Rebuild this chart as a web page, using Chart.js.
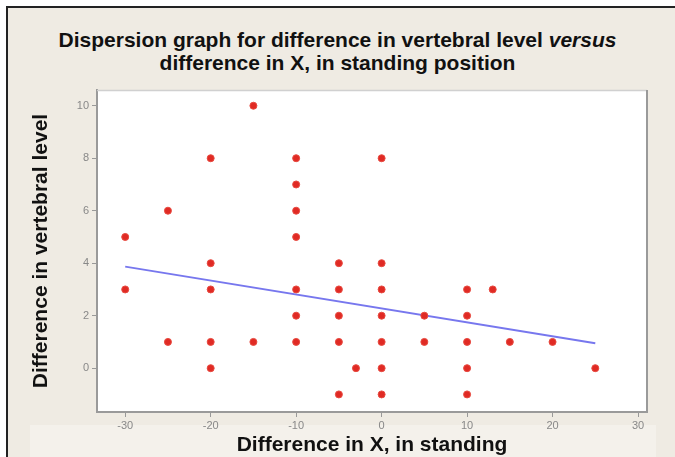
<!DOCTYPE html>
<html lang="en">
<head>
  <meta charset="UTF-8">
  <title>Dispersion graph</title>
  <script src="https://cdn.jsdelivr.net/npm/chart.js@4"></script>
  <style>
    html, body { margin: 0; padding: 0; background: #fff; }
    .frame {
      position: absolute; left: 6px; top: 6px; width: 669px; height: 451px;
      background: #efebe3; border-left: 2px solid #222; border-top: 2px solid #222;
      box-sizing: border-box;
    }
    .title {
      position: absolute; left: 0; top: 28px; width: 675px; text-align: center;
      font: bold 21px "Liberation Sans", Arial, sans-serif; line-height: 23px; color: #111;
    }
    #wrap { position: absolute; left: 0; top: 0; width: 675px; height: 457px; }
  </style>
</head>
<body>
  <div class="frame"></div>
  <div class="title">Dispersion graph for difference in vertebral level <em>versus</em><br>difference in X, in standing position</div>
  <div id="wrap"><canvas id="chart" width="675" height="457"></canvas></div>

  <script>
    // points: x = difference in X, y = difference in vertebral level
    const diffX = [-30, -30, -25, -25, -20, -20, -20, -20, -20, -15, -15,
                   -10, -10, -10, -10, -10, -10, -10,
                   -5, -5, -5, -5, -5, -3,
                   0, 0, 0, 0, 0, 0, 0,
                   5, 5, 10, 10, 10, 10, 10, 13, 15, 20, 25];
    const diffLevel = [5, 3, 6, 1, 8, 4, 3, 1, 0, 10, 1,
                       8, 7, 6, 5, 3, 2, 1,
                       4, 3, 2, 1, -1, 0,
                       8, 4, 3, 2, 1, 0, -1,
                       2, 1, 3, 2, 1, 0, -1, 3, 1, 1, 0];
    // fitted line ends
    const fitX = [-30, 25];
    const fitY = [3.87, 0.95];
    const xTicks = [-30, -20, -10, 0, 10, 20, 30];
    const yTicks = [0, 2, 4, 6, 8, 10];

    const points = diffX.map((x, i) => ({ x: x, y: diffLevel[i] }));
    const fitLine = fitX.map((x, i) => ({ x: x, y: fitY[i] }));

    // light band behind the x title + box round the plot
    const decor = {
      id: 'decor',
      beforeDraw(chart) {
        const c = chart.ctx;
        c.save();
        c.fillStyle = '#f4f1eb';
        c.fillRect(30, 425, 626, 32);
        const a = chart.chartArea;
        c.fillStyle = '#fff';
        c.fillRect(a.left, a.top, a.right - a.left, a.bottom - a.top);
        c.restore();
      },
      afterDraw(chart) {
        const a = chart.chartArea;
        const c = chart.ctx;
        c.save();
        c.strokeStyle = '#d0d0d0';
        c.lineWidth = 1.5;
        c.beginPath();
        c.moveTo(a.left, a.top + 0.5);
        c.lineTo(a.right, a.top + 0.5);
        c.stroke();
        c.strokeStyle = '#9a9a9a';
        c.lineWidth = 2;
        c.beginPath();
        c.moveTo(a.right, a.top);
        c.lineTo(a.right, a.bottom);
        c.stroke();
        c.restore();
      }
    };

    const tickFont = { family: '"Liberation Sans", Arial, sans-serif', size: 11 };
    const titleFont = { family: '"Liberation Sans", Arial, sans-serif', size: 21, weight: 'bold' };

    new Chart(document.getElementById('chart'), {
      type: 'scatter',
      data: {
        datasets: [
          {
            label: 'Observations',
            data: points,
            backgroundColor: '#e02a24',
            borderColor: '#e84a40',
            borderWidth: 1,
            pointRadius: 3.5,
            order: 1
          },
          {
            type: 'line',
            label: 'Fit',
            data: fitLine,
            borderColor: '#7777ee',
            borderWidth: 2,
            pointRadius: 0,
            fill: false,
            order: 2
          }
        ]
      },
      options: {
        responsive: false,
        animation: false,
        layout: { padding: { left: 0, top: 90, right: 28, bottom: 0 } },
        plugins: { legend: { display: false }, tooltip: { enabled: false } },
        scales: {
          x: {
            type: 'linear',
            min: -33.3, max: 31.05,
            afterBuildTicks: s => { s.ticks = xTicks.map(v => ({ value: v })); },
            afterFit: s => { s.height = 45; },
            ticks: { color: '#888', font: tickFont, padding: 2 },
            grid: { drawOnChartArea: false, tickLength: 5, color: '#999' },
            border: { color: '#9a9a9a', width: 2 },
            title: { display: true, text: 'Difference in X, in standing', color: '#111', font: titleFont, padding: { top: 2, bottom: -1 } }
          },
          y: {
            type: 'linear',
            min: -1.67, max: 10.6,
            afterBuildTicks: s => { s.ticks = yTicks.map(v => ({ value: v })); },
            afterFit: s => { s.width = 97; },
            ticks: { color: '#888', font: tickFont, padding: 3 },
            grid: { drawOnChartArea: false, tickLength: 5, color: '#999' },
            border: { color: '#9a9a9a', width: 2 },
            title: { display: true, text: 'Difference in vertebral level', color: '#111', font: titleFont, padding: { top: 29, bottom: 0 } }
          }
        }
      },
      plugins: [decor]
    });
  </script>
</body>
</html>
